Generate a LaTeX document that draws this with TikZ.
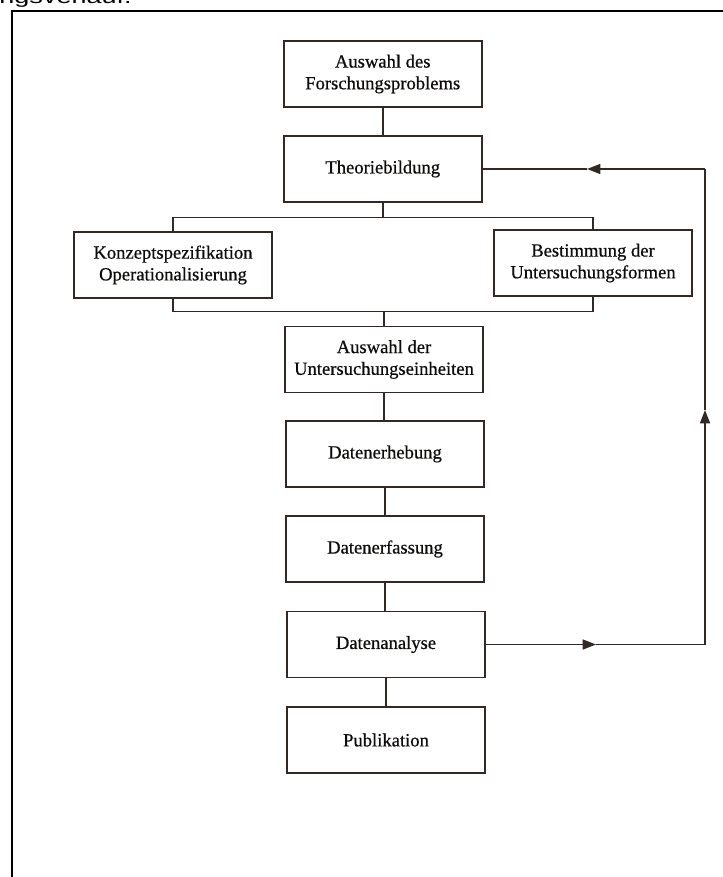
\documentclass[tikz,border=0pt]{standalone}
\usepackage{fontspec}
\setmainfont{Liberation Serif}
\newfontfamily\boxfont{Liberation Serif}[FakeBold=0.6]
\newfontfamily\headsans{Liberation Sans}
\usetikzlibrary{arrows.meta}
\definecolor{inkline}{RGB}{50,40,36}
\definecolor{inktext}{RGB}{14,12,10}
\begin{document}
\begin{tikzpicture}[x=0.75pt,y=-0.75pt,
  stepbox/.style={draw=inkline, line width=1.15pt, minimum width=148.5pt, minimum height=49.5pt,
    inner sep=0pt, align=center, text=inktext, font=\boxfont\fontsize{13.95}{16.3}\selectfont},
  conn/.style={draw=inkline, line width=1.15pt},
  tip/.style={-{Triangle[length=10pt,width=7.5pt]}}
]
\useasboundingbox (0,0) rectangle (723,877);
\begin{scope}
\clip (0,0) rectangle (723,877);
\node[anchor=base west, inner sep=0pt, font=\headsans\fontsize{14}{14}\selectfont, xscale=1.45] (head) at (-1,4) {ngsverlauf.};
\end{scope}
% frame
\draw[line width=1.5pt, black] (723,11.5) -- (11.5,11.5) -- (11.5,877);

\node[stepbox] (b1) at (382.75,74) {Auswahl des\\Forschungsproblems};
\node[stepbox] (b2) at (382.75,169) {Theoriebildung};
\node[stepbox] (b3) at (173,265) {Konzeptspezifikation\\Operationalisierung};
\node[stepbox] (b4) at (593,263) {Bestimmung der\\Untersuchungsformen};
\node[stepbox] (b5) at (384,359.5) {Auswahl der\\Untersuchungseinheiten};
\node[stepbox] (b6) at (385,454) {Datenerhebung};
\node[stepbox] (b7) at (385,549) {Datenerfassung};
\node[stepbox] (b8) at (386,644.5) {Datenanalyse};
\node[stepbox] (b9) at (386,740) {Publikation};

\coordinate (sp) at (382.75,217.3);
\coordinate (mg) at (384,311.7);
\draw[conn] (b1.south) -- (b2.north);
\draw[conn] (b2.south) -- (sp);
\draw[conn] (b3.north) |- (sp) -| (b4.north);
\draw[conn] (b3.south) |- (mg) -| (b4.south);
\draw[conn] (mg) -- (b5.north);
\draw[conn] (b5.south) -- (b5.south |- b6.north);
\draw[conn] (b6.south) -- (b6.south |- b7.north);
\draw[conn] (b7.south) -- (b7.south |- b8.north);
\draw[conn] (b8.south) -- (b8.south |- b9.north);

% feedback loop
\coordinate (cbr) at (705,644.5);
\coordinate (ctr) at (705,169);
\coordinate (ta) at (596,644.5);
\coordinate (tb) at (705,410);
\coordinate (tc) at (587,169);
\draw[conn, tip, fill=inkline] (b8.east) -- (ta);
\draw[conn] (ta) -- (cbr);
\draw[conn, tip, fill=inkline] (cbr) -- (tb);
\draw[conn] (tb) -- (ctr);
\draw[conn, tip, fill=inkline] (ctr) -- (tc);
\draw[conn] (tc) -- (b2.east);
\end{tikzpicture}
\end{document}
